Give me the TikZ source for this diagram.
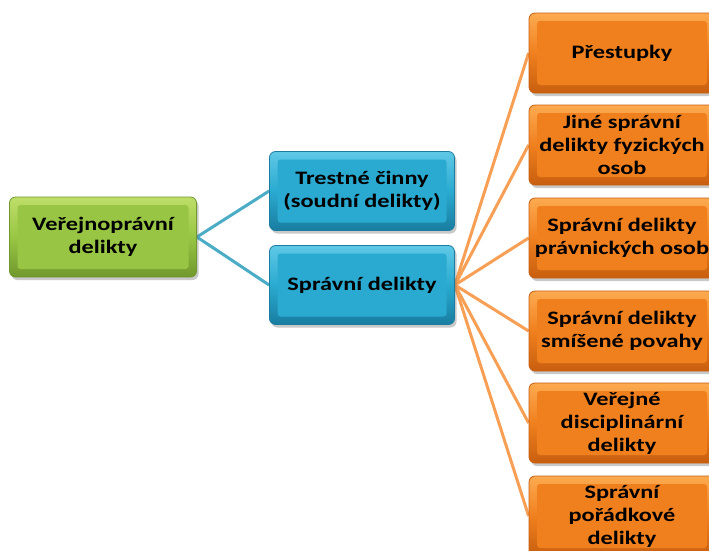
\documentclass[tikz,border=0pt]{standalone}
\usepackage{fontspec}
\newfontfamily\boxfont{Carlito}[FakeStretch=1.28]
\usetikzlibrary{shadings,shadows,backgrounds}
\definecolor{gmain}{RGB}{152,198,68}
\definecolor{glight}{RGB}{190,222,105}
\definecolor{gdark}{RGB}{112,152,45}
\definecolor{bmain}{RGB}{42,170,208}
\definecolor{blight}{RGB}{95,200,230}
\definecolor{bdark}{RGB}{25,125,160}
\definecolor{omain}{RGB}{240,128,30}
\definecolor{olight}{RGB}{252,170,80}
\definecolor{odark}{RGB}{200,95,15}
\definecolor{bline}{RGB}{75,172,198}
\definecolor{oline}{RGB}{247,160,85}
\tikzset{
  x=1pt, y=-1pt,
  boxbase/.style={rectangle, rounded corners=6pt, align=center,
    font=\boxfont\bfseries\fontsize{19}{23}\selectfont, text=black,
    line width=0.8pt, inner sep=2pt,
    drop shadow={shadow xshift=2pt, shadow yshift=-3pt, opacity=0.35, fill=black!60}},
  gbox/.style={boxbase, minimum width=187pt, minimum height=80pt,
    top color=glight, bottom color=gdark, middle color=gmain, draw=gdark,
    path picture={\fill[gmain, rounded corners=3pt] ([shift={(8pt,-8pt)}]path picture bounding box.north west) rectangle ([shift={(-8pt,8pt)}]path picture bounding box.south east);}},
  bbox/.style={boxbase, minimum width=185pt, minimum height=79pt,
    top color=blight, bottom color=bdark, middle color=bmain, draw=bdark,
    path picture={\fill[bmain, rounded corners=3pt] ([shift={(8pt,-8pt)}]path picture bounding box.north west) rectangle ([shift={(-8pt,8pt)}]path picture bounding box.south east);}},
  obox/.style={boxbase, minimum width=186pt, minimum height=80pt,
    top color=olight, bottom color=odark, middle color=omain, draw=odark,
    path picture={\fill[omain, rounded corners=3pt] ([shift={(8pt,-8pt)}]path picture bounding box.north west) rectangle ([shift={(-8pt,8pt)}]path picture bounding box.south east);}},
  bconn/.style={draw=bline, line width=3pt},
  oconn/.style={draw=oline, line width=3pt}
}
\begin{document}
\begin{tikzpicture}
\useasboundingbox (0,0) rectangle (709,550);
\begin{scope}[on background layer]
  \fill[white] (0,0) rectangle (709,550);
\end{scope}
\clip (0,0) rectangle (709,550);
\node[gbox] (g) at (103,237) {Veřejnoprávní\\delikty};
\node[bbox] (t) at (362,191) {Trestné činny\\(soudní delikty)};
\node[bbox] (s) at (362,285) {Správní delikty};
\node[obox] (o1) at (622,53) {Přestupky};
\node[obox] (o2) at (622,145) {Jiné správní\\delikty fyzických\\osob};
\node[obox] (o3) at (622,238) {Správní delikty\\právnických osob};
\node[obox] (o4) at (622,331) {Správní delikty\\smíšené povahy};
\node[obox] (o5) at (622,423) {Veřejné\\disciplinární\\delikty};
\node[obox] (o6) at (622,516) {Správní\\pořádkové\\delikty};
\begin{scope}[on background layer]
  \draw[bconn] (g.east) -- (t.west);
  \draw[bconn] (g.east) -- (s.west);
  \foreach \n in {o1,o2,o3,o4,o5,o6}
    \draw[oconn] (s.east) -- (\n.west);
\end{scope}
\end{tikzpicture}
\end{document}
